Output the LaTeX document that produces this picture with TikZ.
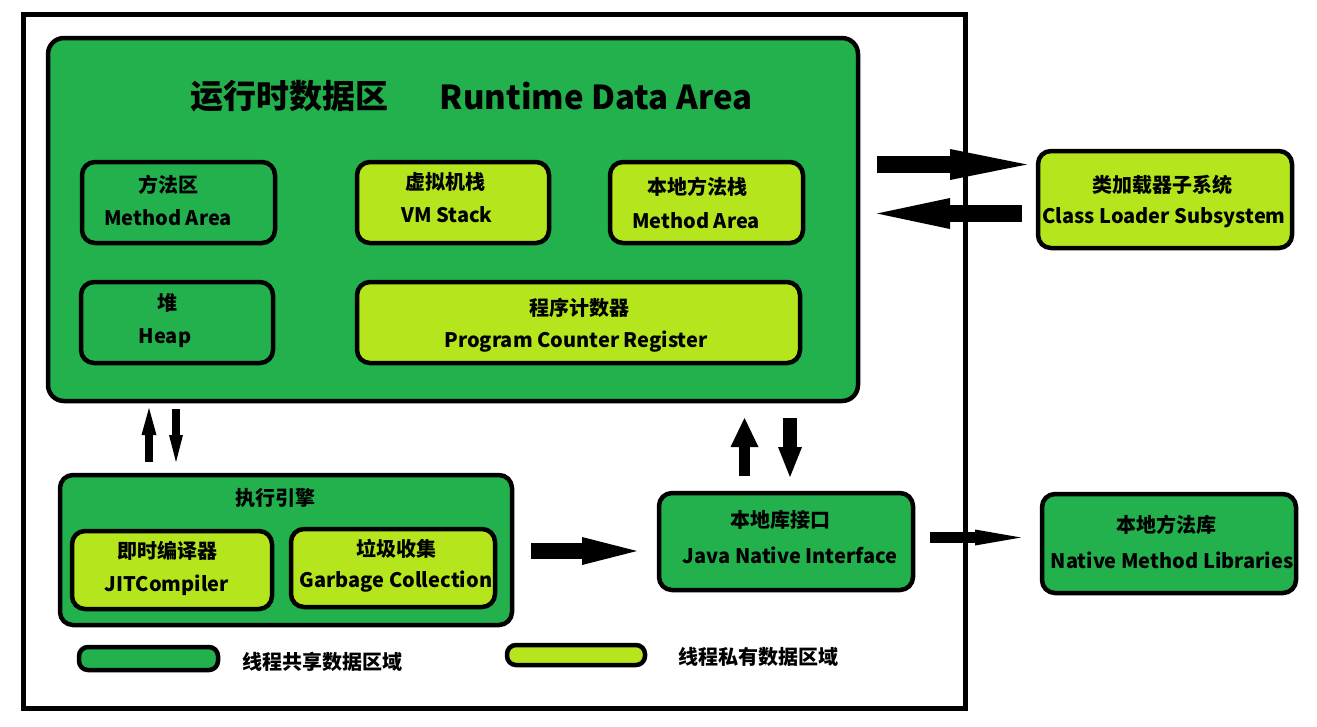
\documentclass[tikz,border=0pt]{standalone}
\usepackage{fontspec}
\setmainfont{Noto Sans CJK SC}
\usetikzlibrary{arrows.meta}
\definecolor{gr}{HTML}{22B14C}
\definecolor{lg}{HTML}{B5E61D}
\tikzset{
  box/.style={draw=black, line width=4.5pt, rounded corners=13pt, inner sep=0pt},
  gbox/.style={box, fill=gr},
  lbox/.style={box, fill=lg},
  pill/.style={draw=black, line width=4.5pt, rounded corners=9pt, inner sep=0pt},
  txt/.style={font=\bfseries\fontsize{20}{20}\selectfont, inner sep=0pt, text=black},
  ttl/.style={font=\bfseries\fontsize{33}{33}\selectfont, inner sep=0pt, text=black}
}
\begin{document}
\begin{tikzpicture}[x=1pt,y=-1pt]
\useasboundingbox (0,0) rectangle (1317,726);
\draw[line width=5pt] (23.5,14) rectangle (965.5,708);
% boxes
\node[gbox, minimum width=810pt, minimum height=363pt, rounded corners=16pt] (rda) at (453,219.5) {};
\node[gbox, minimum width=193pt, minimum height=81pt] (ma) at (178.5,202.5) {};
\node[lbox, minimum width=192pt, minimum height=81pt] (vm) at (453,202.5) {};
\node[lbox, minimum width=193pt, minimum height=81pt] (ns) at (706.5,202.5) {};
\node[gbox, minimum width=192pt, minimum height=81pt] (heap) at (177,322.5) {};
\node[lbox, minimum width=443pt, minimum height=81pt] (pc) at (578.5,322.5) {};
\node[lbox, minimum width=254pt, minimum height=97pt] (cl) at (1165,199.5) {};
\node[gbox, minimum width=452pt, minimum height=150pt] (ee) at (286,550) {};
\node[lbox, minimum width=200pt, minimum height=78pt] (jit) at (172,570) {};
\node[lbox, minimum width=204pt, minimum height=78pt] (gc) at (393,568) {};
\node[gbox, minimum width=254pt, minimum height=97pt] (jni) at (786,541.5) {};
\node[gbox, minimum width=254pt, minimum height=99pt] (nml) at (1169,543.5) {};
\node[pill, fill=gr, minimum width=139pt, minimum height=23pt] (lg1) at (148.5,658.5) {};
\node[pill, fill=lg, minimum width=138pt, minimum height=20pt] (lg2) at (576,655) {};
% texts
\node[ttl] (t1) at (289,96) {运行时数据区};
\node[ttl] (t2) at (596,96) {Runtime Data Area};
\node[txt] (ma1) at (168,185) {方法区};
\node[txt] (ma2) at (168,218) {Method Area};
\node[txt] (vm1) at (445,182) {虚拟机栈};
\node[txt] (vm2) at (447,215) {VM Stack};
\node[txt] (ns1) at (697,187) {本地方法栈};
\node[txt] (ns2) at (696,221) {Method Area};
\node[txt] (h1) at (167,303) {堆};
\node[txt] (h2) at (165,338) {Heap};
\node[txt] (pc1) at (579,308) {程序计数器};
\node[txt] (pc2) at (576,342) {Program Counter Register};
\node[txt] (cl1) at (1162,185) {类加载器子系统};
\node[txt] (cl2) at (1164,218) {Class Loader Subsystem};
\node[txt] (ee1) at (275,498) {执行引擎};
\node[txt] (jit1) at (167,551) {即时编译器};
\node[txt] (jit2) at (167,585) {JITCompiler};
\node[txt] (gc1) at (396,549) {垃圾收集};
\node[txt] (gc2) at (396,582) {Garbage Collection};
\node[txt] (jni1) at (780,520) {本地库接口};
\node[txt] (jni2) at (790,555) {Java Native Interface};
\node[txt] (nml1) at (1166,525) {本地方法库};
\node[txt] (nml2) at (1172,560) {Native Method Libraries};
\node[txt] (lt1) at (322,662) {线程共享数据区域};
\node[txt] (lt2) at (758,657) {线程私有数据区域};
% arrow end points
\coordinate (a1s) at (877,164.5); \coordinate (a1e) at (1027,164.5);
\coordinate (a2s) at (1022,213.5); \coordinate (a2e) at (877,213.5);
\coordinate (u1s) at (149,462); \coordinate (u1e) at (149,408);
\coordinate (d1s) at (176,409); \coordinate (d1e) at (176,462);
\coordinate (u2s) at (744.5,476); \coordinate (u2e) at (744.5,418);
\coordinate (d2s) at (790,418); \coordinate (d2e) at (790,477);
\coordinate (r1s) at (531,551); \coordinate (r1e) at (637,551);
\coordinate (r2s) at (930,537.5); \coordinate (r2e) at (1021,537.5);
% arrows
\draw[line width=17pt, -{Triangle[length=77pt,width=31pt,line width=0pt]}] (a1s) -- (a1e);
\draw[line width=17pt, -{Triangle[length=73pt,width=31pt,line width=0pt]}] (a2s) -- (a2e);
\draw[line width=8pt, -{Triangle[length=27pt,width=15pt,line width=0pt]}] (u1s) -- (u1e);
\draw[line width=8pt, -{Triangle[length=27pt,width=14pt,line width=0pt]}] (d1s) -- (d1e);
\draw[line width=11pt, -{Triangle[length=29pt,width=28pt,line width=0pt]}] (u2s) -- (u2e);
\draw[line width=14pt, -{Triangle[length=30pt,width=24pt,line width=0pt]}] (d2s) -- (d2e);
\draw[line width=16pt, -{Triangle[length=55pt,width=28pt,line width=0pt]}] (r1s) -- (r1e);
\draw[line width=11pt, -{Triangle[length=46pt,width=16pt,line width=0pt]}] (r2s) -- (r2e);
\end{tikzpicture}
\end{document}
